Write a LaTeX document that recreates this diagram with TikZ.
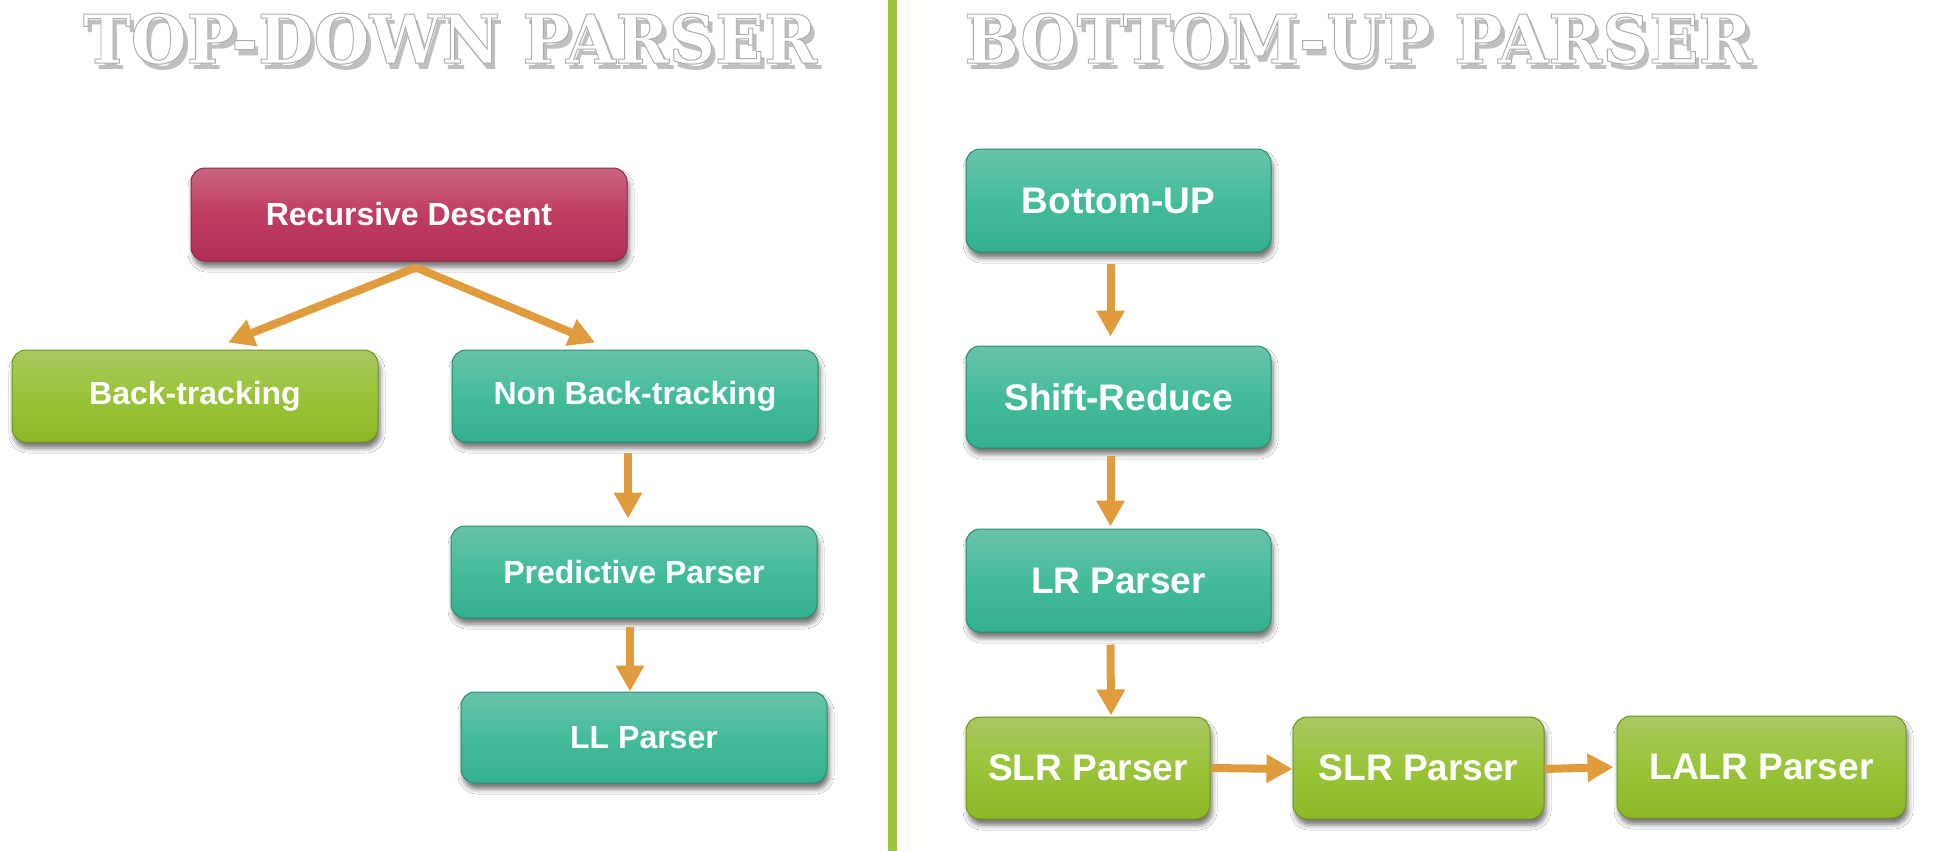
\documentclass[tikz,border=0pt]{standalone}
\usepackage{fontspec}
\setmainfont{Liberation Sans}
\newfontfamily\titlefont{DejaVu Serif}
\usetikzlibrary{arrows.meta,shadows.blur,calc}
\definecolor{tealtop}{HTML}{68C2A9}
\definecolor{tealmid}{HTML}{44BC9C}
\definecolor{tealbot}{HTML}{34AF8F}
\definecolor{grtop}{HTML}{A8C862}
\definecolor{grmid}{HTML}{9AC438}
\definecolor{grbot}{HTML}{8CB826}
\definecolor{rdtop}{HTML}{C7667F}
\definecolor{rdmid}{HTML}{C13C61}
\definecolor{rdbot}{HTML}{B12F56}
\definecolor{arrowc}{HTML}{E09B3C}
\definecolor{divc}{HTML}{9DC43D}
\newcommand\outl[1]{\special{pdf:literal direct 0.68 G 2 Tr 0.15 w}#1\special{pdf:literal direct 0 Tr}}
\newcommand\shadowed[1]{\rlap{\kern.07em\raisebox{-.09em}{\textcolor{gray!50}{#1}}}\outl{#1}}
\newcommand\ttlA[1]{\resizebox{734pt}{50pt}{\titlefont\bfseries\shadowed{#1}}}
\newcommand\ttlB[1]{\resizebox{788pt}{50pt}{\titlefont\bfseries\shadowed{#1}}}
\begin{document}
\begin{tikzpicture}[x=1pt,y=-1pt,
  box/.style={rounded corners=14pt, text=white, inner sep=0pt, line width=1pt,
    blur shadow={shadow xshift=2pt, shadow yshift=-6pt, shadow blur radius=5pt, shadow opacity=55}},
  leftbox/.style={box, font=\bfseries\fontsize{32}{36}\selectfont},
  rightbox/.style={box, font=\bfseries\fontsize{37}{42}\selectfont},
  tealfill/.style={top color=tealtop, bottom color=tealbot, middle color=tealmid, draw=tealbot!80!black},
  greenfill/.style={top color=grtop, bottom color=grbot, middle color=grmid, draw=grbot!80!black},
  redfill/.style={top color=rdtop, bottom color=rdbot, middle color=rdmid, draw=rdbot!80!black},
  arr/.style={draw=arrowc, line width=8pt, -{Triangle[length=26pt,width=27pt]}},
  ttl/.style={anchor=north west, inner sep=0pt, text=white}
]
\useasboundingbox (0,0) rectangle (1935,851);
\fill[white] (0,0) rectangle (1935,851);

% divider
\fill[divc] (888,0) rectangle (897,851);

% titles
\node[ttl] (t1) at (83,13) {\ttlA{TOP-DOWN PARSER}};
\node[ttl] (t2) at (964,13) {\ttlB{BOTTOM-UP PARSER}};

% left side boxes
\node[leftbox, redfill, minimum width=436pt, minimum height=93pt] (rd) at (409,214.5) {Recursive Descent};
\node[leftbox, greenfill, minimum width=366pt, minimum height=92pt] (bt) at (195,396) {Back-tracking};
\node[leftbox, tealfill, minimum width=366pt, minimum height=92pt] (nb) at (635,396) {Non Back-tracking};
\node[leftbox, tealfill, minimum width=366pt, minimum height=92pt] (pp) at (634,572) {Predictive Parser};
\node[leftbox, tealfill, minimum width=366pt, minimum height=91pt] (ll) at (644,737.5) {LL Parser};

% right side boxes
\node[rightbox, tealfill, minimum width=305pt, minimum height=103pt] (bu) at (1118.5,200.5) {Bottom-UP};
\node[rightbox, tealfill, minimum width=305pt, minimum height=102pt] (sr) at (1118.5,397) {Shift-Reduce};
\node[rightbox, tealfill, minimum width=305pt, minimum height=103pt] (lr) at (1118.5,580.5) {LR Parser};
\node[rightbox, greenfill, minimum width=244pt, minimum height=102pt] (s1) at (1088,768) {SLR Parser};
\node[rightbox, greenfill, minimum width=251pt, minimum height=102pt] (s2) at (1418.5,768) {SLR Parser};
\node[rightbox, greenfill, minimum width=289pt, minimum height=102pt] (la) at (1761.5,767) {LALR Parser};

% connectors
\coordinate (rdfork) at ([xshift=7pt,yshift=-6pt]rd.south);
\draw[arr] (rdfork) -- ([xshift=33pt,yshift=7pt]bt.north);
\draw[arr] (rdfork) -- ([xshift=-40pt,yshift=7pt]nb.north);
\draw[arr] ([xshift=-7pt,yshift=-10pt]nb.south) -- ([xshift=-6pt,yshift=7pt]pp.north);
\draw[arr] ([xshift=-4pt,yshift=-8pt]pp.south) -- ([xshift=-14pt]ll.north);

\draw[arr] ([xshift=-8pt,yshift=-11pt]bu.south) -- ([xshift=-8pt,yshift=9pt]sr.north);
\draw[arr] ([xshift=-8pt,yshift=-7pt]sr.south) -- ([xshift=-8pt,yshift=2pt]lr.north);
\draw[arr] ([xshift=-8pt,yshift=-12pt]lr.south) -- ([xshift=23pt,yshift=1pt]s1.north);
\draw[arr] (s1.east) -- ([yshift=-1pt]s2.west);
\draw[arr] ([yshift=-1pt]s2.east) -- ([xshift=-3pt]la.west);
\end{tikzpicture}
\end{document}
